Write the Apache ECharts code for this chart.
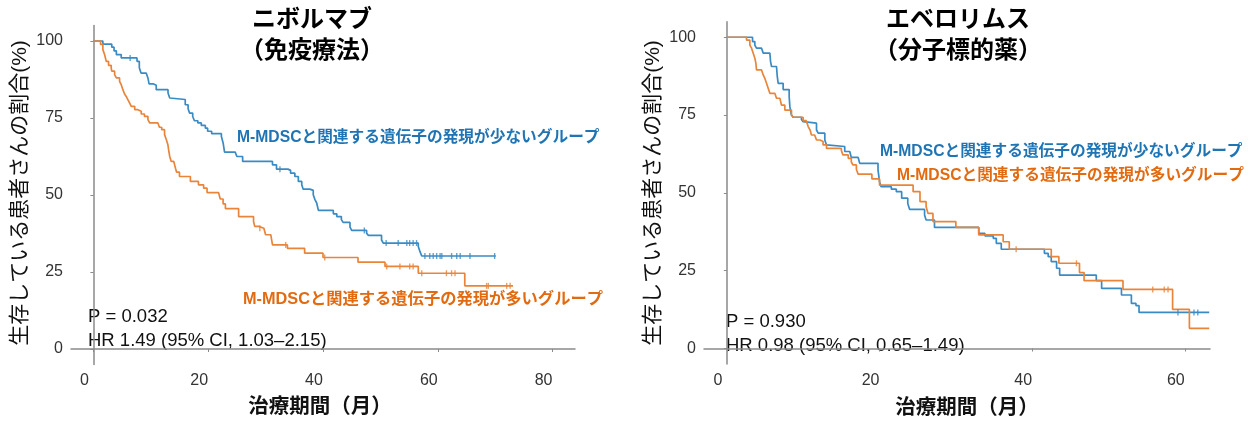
<!DOCTYPE html>
<html><head><meta charset="utf-8">
<script src="https://cdn.jsdelivr.net/npm/echarts@6/dist/echarts.min.js"></script>
<style>html,body{margin:0;padding:0;background:#fff}#c{width:1253px;height:421px}</style>
</head><body><div id="c"></div>
<script>
// ---- data (time in months, survival %) ----
const xTicksLeft = [0, 20, 40, 60, 80];
const xTicksRight = [0, 20, 40, 60];
const yTicks = [0, 25, 50, 75, 100];

const titleLeft = ['ニボルマブ', '（免疫療法）'];
const titleRight = ['エベロリムス', '（分子標的薬）'];
const yTitle = '生存している患者さんの割合(%)';
const xTitle = '治療期間（月）';
const lowLabel = 'M-MDSCと関連する遺伝子の発現が少ないグループ';
const highLabel = 'M-MDSCと関連する遺伝子の発現が多いグループ';
const statsLeft = ['P = 0.032', 'HR 1.49 (95% CI, 1.03–2.15)'];
const statsRight = ['P = 0.930', 'HR 0.98 (95% CI, 0.65–1.49)'];

const nivoLow = [[0,100],[1.65,99.0],[3.2,98.0],[3.6,96.8],[4.0,95.6],[4.85,94.5],[7.6,93.4],[8.0,91.3],[8.3,89.6],[9.2,89.1],[9.5,88.0],[9.7,86.1],[10.4,85.6],[10.95,84.2],[13.0,83.1],[13.3,81.5],[13.6,81.0],[16.0,79.3],[16.5,78.0],[16.75,76.6],[17.3,75.5],[17.6,74.1],[18.2,73.4],[18.8,72.6],[19.5,71.7],[19.9,70.7],[20.6,69.9],[22.3,69.0],[22.6,66.9],[22.85,63.9],[24.7,63.3],[25.0,62.5],[26.0,60.9],[31.2,59.8],[31.9,58.4],[33.9,58.0],[34.35,57.1],[35.1,56.0],[35.7,54.4],[36.3,53.3],[36.55,51.9],[37.7,51.5],[38.3,50.1],[38.6,48.5],[38.9,47.4],[39.2,45.0],[41.8,43.9],[42.4,43.0],[43.2,42.0],[43.5,41.1],[44.7,39.6],[45.0,38.5],[47.6,37.6],[47.9,36.9],[50.2,35.4],[50.5,34.4],[56.6,33.3],[56.9,31.6],[57.2,30.2],[70.1,30.2]];
const nivoLowCens = [[6.4,94.5],[32.5,58.4],[47.2,38.5],[51.0,34.4],[53.1,34.4],[54.6,34.4],[55.1,34.4],[55.7,34.4],[56.3,34.4],[57.75,30.2],[58.6,30.2],[59.2,30.2],[59.8,30.2],[60.4,30.2],[60.7,30.2],[62.4,30.2],[63.3,30.2],[63.9,30.2],[65.6,30.2],[69.9,30.2]];

const nivoHigh = [[0,100],[1.25,98.9],[1.65,97.2],[1.95,95.6],[2.24,93.4],[2.64,92.1],[3.1,91.3],[3.2,90.2],[3.7,89.1],[4.0,88.0],[4.56,86.9],[4.85,85.8],[5.14,84.2],[5.43,82.8],[5.72,82.0],[6.0,81.0],[6.3,79.9],[6.6,78.8],[7.2,77.7],[7.75,77.2],[8.33,76.3],[8.9,75.5],[9.5,74.5],[9.8,73.4],[11.24,73.0],[11.5,72.0],[11.9,71.2],[12.4,69.6],[12.7,68.0],[12.98,66.3],[13.1,64.7],[13.3,62.5],[13.56,60.9],[14.0,60.4],[14.3,58.7],[14.5,57.4],[15.0,56.0],[16.9,54.4],[18.3,53.3],[19.2,52.2],[19.8,50.8],[21.8,50.3],[22.1,48.7],[22.6,47.1],[23.0,45.6],[25.3,43.0],[27.9,41.4],[28.1,39.8],[28.8,39.2],[29.7,38.6],[30.0,37.1],[30.9,36.5],[31.2,33.8],[33.8,32.7],[36.8,31.1],[40.0,29.7],[46.1,28.2],[50.8,26.8],[56.6,24.6],[64.7,20.5],[73.1,20.5]];
const nivoHighCens = [[29.0,39.2],[33.5,33.8],[40.3,29.7],[51.1,26.8],[53.4,26.8],[55.1,26.8],[55.7,26.8],[57.2,24.6],[61.5,24.6],[62.4,24.6],[63.0,24.6],[68.5,20.5],[68.8,20.5],[72.0,20.5],[72.6,20.5]];

const everoLow = [[0,100],[3.36,98.6],[3.66,97.5],[3.88,96.5],[4.54,95.9],[4.76,94.9],[5.63,94.3],[5.72,92.2],[5.85,90.6],[6.5,90.0],[6.6,87.4],[6.72,85.2],[7.37,83.2],[8.16,80.9],[8.25,77.7],[8.46,75.0],[8.68,74.3],[9.77,73.6],[9.99,72.9],[10.2,72.4],[11.74,70.2],[11.96,69.2],[12.83,67.0],[13.05,65.4],[13.26,64.9],[15.44,63.3],[16.1,62.7],[16.3,61.4],[17.2,60.8],[17.4,59.5],[19.8,57.4],[20.0,53.6],[20.2,52.0],[21.55,51.2],[22.2,50.4],[22.9,48.3],[23.7,46.6],[23.95,44.7],[25.9,42.9],[26.1,41.3],[27.2,38.9],[33.0,37.0],[33.8,36.2],[34.9,35.4],[35.3,33.8],[35.95,31.9],[41.6,30.6],[42.1,29.5],[42.5,27.9],[43.2,25.8],[43.6,23.6],[48.4,21.8],[49.1,19.3],[51.7,17.2],[53.0,14.5],[53.6,13.8],[54.0,11.6],[63.2,11.6]];
const everoLowCens = [[59.1,11.6],[61.2,11.6],[61.7,11.6]];

const everoHigh = [[0,100],[2.57,99.1],[3.01,97.5],[3.23,96.5],[3.45,94.85],[3.67,93.2],[3.8,91.6],[3.88,89.5],[4.54,89.0],[4.76,87.9],[4.97,86.8],[5.19,85.2],[5.41,83.6],[5.63,82.0],[6.28,81.5],[6.5,80.4],[6.94,79.9],[7.15,78.2],[7.59,76.6],[8.46,75.0],[8.68,74.3],[9.99,73.2],[10.4,72.6],[10.65,71.3],[10.9,70.2],[11.08,68.6],[11.5,68.1],[11.74,67.0],[12.2,66.5],[12.6,65.4],[13.05,64.3],[15.0,63.6],[15.2,62.2],[15.9,61.1],[16.3,60.0],[16.5,59.0],[16.97,57.5],[17.2,56.0],[19.0,54.5],[20.0,52.5],[24.4,50.4],[25.3,47.2],[26.1,45.6],[26.35,43.4],[27.0,40.8],[30.0,38.9],[33.0,36.5],[36.2,34.3],[37.0,31.9],[42.5,29.5],[43.5,27.4],[46.2,24.4],[46.8,21.8],[51.9,19.0],[58.4,12.6],[60.6,6.5],[63.2,6.5]];
const everoHighCens = [[37.9,31.9],[45.8,27.4],[55.8,19.0],[57.3,19.0],[57.8,19.0]];

// ---- styling ----
const FONT = "'Liberation Sans','Noto Sans CJK JP',sans-serif";
const BLUE = '#3a8bc3', ORANGE = '#e9853a';
const BLUE_T = '#1f74b4', ORANGE_T = '#e26a10';
const AX = '#8a8a8a';

function xAxis(grid, min, max, ticks) {
  return {
    type: 'value', gridIndex: grid, min: min, max: max,
    splitLine: {show: false},
    axisLine: {lineStyle: {color: AX, width: 1.5}},
    axisTick: {show: true, length: 3, lineStyle: {color: AX}, customValues: ticks},
    axisLabel: {customValues: ticks, color: '#333', fontSize: 16, margin: 8, fontFamily: FONT, padding: [0, 18, 0, 0]}
  };
}
function yAxis(grid) {
  return {
    type: 'value', gridIndex: grid, min: -5, max: 105,
    splitLine: {show: false},
    axisLine: {show: true, lineStyle: {color: AX, width: 1.5}},
    axisTick: {show: true, length: 3, lineStyle: {color: AX}, customValues: yTicks},
    axisLabel: {customValues: yTicks, color: '#333', fontSize: 16, margin: 8, fontFamily: FONT}
  };
}
function km(data, xi, color) {
  return {type: 'line', step: 'end', data: data, xAxisIndex: xi, yAxisIndex: xi,
    showSymbol: false, lineStyle: {color: color, width: 1.7}, itemStyle: {color: color}, silent: true};
}
function cens(data, xi, color) {
  return {type: 'scatter', data: data, xAxisIndex: xi, yAxisIndex: xi, symbol: 'rect',
    symbolSize: [1.4, 6], itemStyle: {color: color}, silent: true, z: 3};
}
function txt(text, x, y, size, color, weight, align, rot) {
  return {type: 'text', x: x, y: y, rotation: rot || 0,
    style: {text: text, fill: color, fontSize: size, fontWeight: weight, fontFamily: FONT,
      align: align, verticalAlign: 'middle'}};
}

const chart = echarts.init(document.getElementById('c'));
chart.setOption({
  animation: false,
  backgroundColor: '#fff',
  textStyle: {fontFamily: FONT},
  grid: [
    {left: 71, top: 25.6, width: 504, height: 338.8},
    {left: 704, top: 21.7, width: 506, height: 342.4}
  ],
  xAxis: [xAxis(0, -3.9, 83.9, xTicksLeft), xAxis(1, -3.0, 63.3, xTicksRight)],
  yAxis: [yAxis(0), yAxis(1)],
  series: [
    km(nivoLow, 0, BLUE), km(nivoHigh, 0, ORANGE),
    cens(nivoLowCens, 0, BLUE), cens(nivoHighCens, 0, ORANGE),
    km(everoLow, 1, BLUE), km(everoHigh, 1, ORANGE),
    cens(everoLowCens, 1, BLUE), cens(everoHighCens, 1, ORANGE)
  ],
  graphic: [
    txt(titleLeft[0], 312, 20, 24, '#000', 'bold', 'center'),
    txt(titleLeft[1], 312, 51, 24, '#000', 'bold', 'center'),
    txt(titleRight[0], 958, 20, 24, '#000', 'bold', 'center'),
    txt(titleRight[1], 958, 51, 24, '#000', 'bold', 'center'),
    txt(yTitle, 20, 193, 21, '#111', 'normal', 'center', Math.PI / 2),
    txt(yTitle, 653, 193, 21, '#111', 'normal', 'center', Math.PI / 2),
    txt(xTitle, 320, 407, 20.5, '#111', 'bold', 'center'),
    txt(xTitle, 967, 408, 20.5, '#111', 'bold', 'center'),
    txt(lowLabel, 237, 138, 15.7, BLUE_T, 'bold', 'left'),
    txt(highLabel, 243, 300, 16.3, ORANGE_T, 'bold', 'left'),
    txt(lowLabel, 880, 152, 15.7, BLUE_T, 'bold', 'left'),
    txt(highLabel, 897, 176, 15.7, ORANGE_T, 'bold', 'left'),
    txt(statsLeft[0], 88, 317, 18.5, '#111', 'normal', 'left'),
    txt(statsLeft[1], 88, 341, 18.5, '#111', 'normal', 'left'),
    txt(statsRight[0], 726, 322, 18.5, '#111', 'normal', 'left'),
    txt(statsRight[1], 726, 346, 18.5, '#111', 'normal', 'left')
  ]
});
</script></body></html>
